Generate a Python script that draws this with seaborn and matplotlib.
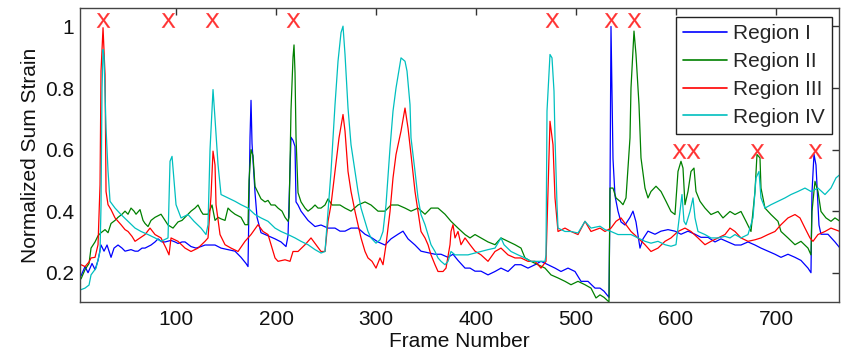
import matplotlib
matplotlib.use("Agg")
import matplotlib.pyplot as plt
import seaborn as sns
import pandas as pd

# ---------------- data ----------------
frames_r1 = [5, 9, 12, 16, 19, 22, 25, 28, 31, 35, 38, 42, 46, 49, 55, 59, 62, 66, 69, 75, 79, 82, 86, 89,
             95, 99, 102, 106, 109, 115, 120, 125, 129, 134, 139, 145, 152, 159, 165, 170, 172, 174, 175, 176,
             179, 181, 185, 192, 199, 205, 210, 212, 215, 217, 219, 220, 222, 225, 232, 239, 245, 252, 259,
             264, 269, 275, 282, 289, 295, 302, 309, 315, 322, 327, 332, 339, 345, 352, 359, 365, 372, 377,
             382, 389, 394, 399, 405, 412, 419, 425, 432, 439, 445, 452, 459, 465, 472, 479, 485, 492, 499,
             505, 512, 519, 524, 528, 533, 534, 535, 537, 539, 542, 545, 549, 554, 557, 560, 564, 567, 572,
             579, 585, 592, 599, 605, 612, 619, 625, 632, 639, 645, 652, 659, 665, 672, 679, 685, 692, 699,
             705, 712, 719, 725, 732, 735, 736, 738, 740, 743, 745, 752, 759, 764]
region_1 = [0.19, 0.22, 0.20, 0.23, 0.21, 0.24, 0.29, 0.27, 0.29, 0.25, 0.28, 0.29, 0.28, 0.27, 0.275, 0.27,
            0.27, 0.28, 0.28, 0.29, 0.30, 0.31, 0.30, 0.30, 0.305, 0.30, 0.295, 0.30, 0.30, 0.285, 0.28, 0.285,
            0.29, 0.29, 0.29, 0.28, 0.275, 0.27, 0.25, 0.23, 0.22, 0.64, 0.76, 0.62, 0.46, 0.38, 0.33, 0.32,
            0.31, 0.30, 0.285, 0.32, 0.64, 0.63, 0.61, 0.43, 0.42, 0.40, 0.37, 0.35, 0.355, 0.345, 0.345,
            0.335, 0.335, 0.345, 0.345, 0.325, 0.315, 0.30, 0.29, 0.31, 0.325, 0.335, 0.31, 0.29, 0.27, 0.265,
            0.26, 0.26, 0.25, 0.26, 0.24, 0.215, 0.215, 0.205, 0.205, 0.193, 0.204, 0.215, 0.204, 0.226, 0.226,
            0.215, 0.226, 0.237, 0.226, 0.215, 0.204, 0.215, 0.204, 0.172, 0.172, 0.15, 0.15, 0.14, 0.12, 0.46,
            1.0, 0.57, 0.45, 0.40, 0.365, 0.355, 0.38, 0.40, 0.365, 0.28, 0.31, 0.335, 0.325, 0.335, 0.34,
            0.335, 0.325, 0.335, 0.325, 0.315, 0.315, 0.30, 0.31, 0.30, 0.29, 0.29, 0.30, 0.29, 0.28, 0.27,
            0.26, 0.25, 0.26, 0.25, 0.24, 0.215, 0.20, 0.46, 0.585, 0.55, 0.355, 0.325, 0.325, 0.30, 0.28]

frames_r2 = [5, 9, 13, 15, 19, 22, 25, 29, 32, 35, 39, 42, 46, 49, 52, 55, 58, 60, 64, 67, 69, 72, 75, 79,
             82, 85, 89, 92, 97, 102, 106, 109, 112, 115, 119, 122, 125, 127, 132, 136, 139, 142, 145, 149,
             152, 155, 159, 162, 165, 169, 172, 173, 175, 177, 179, 182, 185, 189, 192, 195, 199, 202, 206,
             209, 212, 213, 215, 217, 218, 219, 220, 222, 225, 229, 232, 236, 239, 242, 245, 249, 252, 256,
             259, 264, 269, 275, 282, 289, 295, 302, 309, 315, 322, 329, 335, 342, 349, 355, 362, 369, 375,
             382, 389, 394, 399, 405, 412, 419, 425, 432, 439, 445, 449, 455, 462, 469, 475, 482, 489, 495,
             502, 509, 515, 520, 524, 528, 533, 534, 537, 540, 544, 547, 550, 554, 555, 558, 560, 563, 565,
             569, 572, 575, 580, 585, 590, 595, 599, 602, 605, 607, 609, 612, 615, 618, 620, 624, 629, 635,
             642, 647, 654, 659, 665, 670, 675, 679, 681, 684, 685, 689, 695, 702, 705, 712, 719, 725, 732,
             735, 736, 739, 742, 745, 750, 755, 759, 764]
region_2 = [0.18, 0.21, 0.23, 0.28, 0.30, 0.32, 0.33, 0.34, 0.33, 0.36, 0.37, 0.38, 0.39, 0.40, 0.39, 0.41,
            0.40, 0.39, 0.405, 0.37, 0.36, 0.35, 0.37, 0.38, 0.385, 0.39, 0.37, 0.355, 0.345, 0.365, 0.37, 0.38,
            0.39, 0.40, 0.41, 0.42, 0.40, 0.39, 0.39, 0.42, 0.37, 0.38, 0.375, 0.37, 0.41, 0.40, 0.39, 0.385,
            0.38, 0.356, 0.356, 0.50, 0.60, 0.58, 0.48, 0.46, 0.44, 0.43, 0.435, 0.42, 0.42, 0.41, 0.40, 0.38,
            0.367, 0.38, 0.73, 0.90, 0.94, 0.85, 0.64, 0.46, 0.43, 0.41, 0.40, 0.41, 0.42, 0.41, 0.41, 0.42,
            0.44, 0.42, 0.42, 0.42, 0.41, 0.40, 0.42, 0.43, 0.42, 0.40, 0.40, 0.42, 0.42, 0.41, 0.40, 0.41,
            0.39, 0.41, 0.41, 0.39, 0.367, 0.345, 0.324, 0.313, 0.324, 0.313, 0.30, 0.291, 0.313, 0.302, 0.291,
            0.28, 0.248, 0.237, 0.226, 0.215, 0.193, 0.183, 0.172, 0.161, 0.172, 0.161, 0.15, 0.118, 0.128,
            0.12, 0.105, 0.475, 0.475, 0.443, 0.432, 0.421, 0.443, 0.638, 0.80, 0.985, 0.909, 0.746, 0.573,
            0.475, 0.443, 0.464, 0.481, 0.464, 0.432, 0.399, 0.389, 0.529, 0.562, 0.540, 0.421, 0.464, 0.529,
            0.540, 0.464, 0.432, 0.410, 0.389, 0.399, 0.378, 0.399, 0.389, 0.399, 0.367, 0.334, 0.464, 0.584,
            0.573, 0.475, 0.410, 0.389, 0.367, 0.334, 0.313, 0.291, 0.302, 0.280, 0.258, 0.399, 0.497, 0.464,
            0.399, 0.378, 0.367, 0.378, 0.367]

frames_r3 = [5, 9, 13, 15, 19, 22, 24, 25, 27, 29, 30, 32, 35, 39, 45, 49, 52, 56, 59, 64, 69, 74, 79, 85,
             90, 93, 95, 102, 109, 115, 122, 129, 132, 135, 137, 139, 140, 144, 149, 155, 162, 169, 175, 182,
             187, 192, 195, 199, 202, 209, 214, 217, 222, 229, 235, 240, 245, 249, 252, 255, 259, 263, 267,
             269, 272, 275, 279, 282, 285, 289, 292, 296, 300, 304, 307, 310, 314, 317, 320, 325, 329, 332,
             335, 339, 342, 345, 349, 352, 355, 359, 362, 367, 370, 374, 375, 377, 379, 382, 385, 389, 394,
             399, 405, 412, 419, 425, 432, 439, 445, 452, 459, 465, 470, 472, 474, 477, 479, 482, 489, 495,
             502, 509, 515, 524, 529, 535, 540, 545, 550, 555, 562, 569, 575, 582, 589, 595, 602, 609, 615,
             622, 629, 635, 642, 649, 654, 659, 665, 672, 679, 685, 692, 699, 705, 712, 719, 724, 729, 734,
             737, 742, 749, 755, 764]
region_3 = [0.226, 0.22, 0.235, 0.248, 0.25, 0.291, 0.486, 0.855, 0.996, 0.844, 0.464, 0.421, 0.405, 0.378,
            0.356, 0.34, 0.334, 0.318, 0.302, 0.313, 0.324, 0.345, 0.324, 0.313, 0.280, 0.258, 0.313, 0.302,
            0.280, 0.269, 0.280, 0.302, 0.313, 0.45, 0.595, 0.55, 0.421, 0.324, 0.291, 0.280, 0.269, 0.302,
            0.324, 0.356, 0.334, 0.324, 0.291, 0.248, 0.237, 0.242, 0.237, 0.269, 0.269, 0.291, 0.313, 0.291,
            0.269, 0.269, 0.367, 0.421, 0.529, 0.638, 0.714, 0.66, 0.529, 0.464, 0.399, 0.356, 0.313, 0.269,
            0.248, 0.237, 0.215, 0.248, 0.226, 0.291, 0.399, 0.508, 0.584, 0.660, 0.735, 0.670, 0.584, 0.464,
            0.399, 0.334, 0.313, 0.291, 0.258, 0.226, 0.204, 0.204, 0.215, 0.291, 0.334, 0.356, 0.313, 0.334,
            0.291, 0.313, 0.291, 0.270, 0.258, 0.237, 0.269, 0.280, 0.258, 0.248, 0.248, 0.237, 0.237, 0.215,
            0.237, 0.464, 0.692, 0.616, 0.443, 0.334, 0.345, 0.334, 0.324, 0.367, 0.334, 0.345, 0.334, 0.345,
            0.367, 0.378, 0.356, 0.334, 0.313, 0.291, 0.269, 0.280, 0.302, 0.313, 0.334, 0.345, 0.334, 0.313,
            0.291, 0.302, 0.313, 0.324, 0.345, 0.334, 0.313, 0.302, 0.307, 0.313, 0.324, 0.334, 0.356, 0.378,
            0.389, 0.378, 0.345, 0.313, 0.302, 0.324, 0.334, 0.345, 0.334]

frames_r4 = [5, 9, 13, 15, 20, 24, 25, 26, 27, 28, 30, 32, 34, 39, 45, 52, 59, 65, 72, 79, 85, 92, 94, 96,
             98, 100, 105, 112, 118, 125, 130, 132, 134, 137, 139, 142, 145, 152, 159, 165, 172, 179, 185,
             192, 199, 205, 212, 219, 225, 232, 239, 245, 249, 252, 255, 259, 262, 265, 267, 269, 272, 275,
             279, 282, 285, 289, 292, 295, 300, 304, 307, 310, 314, 317, 320, 325, 329, 331, 334, 335, 339,
             342, 345, 349, 352, 355, 359, 362, 365, 369, 372, 375, 379, 385, 392, 399, 405, 412, 419, 425,
             428, 435, 442, 449, 455, 462, 469, 470, 471, 474, 476, 478, 479, 481, 482, 489, 495, 502, 509,
             515, 524, 529, 535, 542, 549, 555, 562, 569, 575, 582, 589, 595, 600, 604, 606, 608, 610, 614,
             617, 619, 622, 629, 635, 642, 649, 654, 659, 665, 672, 677, 680, 683, 685, 689, 695, 702, 709,
             715, 722, 729, 735, 742, 749, 755, 760, 764]
region_4 = [0.145, 0.15, 0.16, 0.193, 0.215, 0.269, 0.421, 0.80, 0.925, 0.90, 0.67, 0.53, 0.432, 0.410,
            0.389, 0.367, 0.345, 0.334, 0.324, 0.313, 0.302, 0.313, 0.562, 0.578, 0.50, 0.421, 0.378, 0.389,
            0.367, 0.345, 0.324, 0.356, 0.60, 0.795, 0.70, 0.551, 0.454, 0.443, 0.432, 0.421, 0.410, 0.389,
            0.378, 0.367, 0.345, 0.334, 0.324, 0.313, 0.302, 0.291, 0.275, 0.264, 0.269, 0.399, 0.529, 0.746,
            0.887, 0.98, 1.001, 0.909, 0.735, 0.616, 0.529, 0.464, 0.410, 0.367, 0.334, 0.313, 0.296, 0.307,
            0.334, 0.421, 0.605, 0.725, 0.80, 0.898, 0.887, 0.855, 0.746, 0.638, 0.529, 0.443, 0.389, 0.356,
            0.324, 0.291, 0.269, 0.248, 0.237, 0.226, 0.237, 0.269, 0.258, 0.258, 0.258, 0.264, 0.269, 0.275,
            0.280, 0.313, 0.291, 0.269, 0.258, 0.248, 0.237, 0.237, 0.237, 0.258, 0.725, 0.909, 0.898, 0.790,
            0.638, 0.421, 0.345, 0.334, 0.334, 0.329, 0.367, 0.345, 0.351, 0.34, 0.334, 0.324, 0.324, 0.324,
            0.313, 0.302, 0.296, 0.302, 0.291, 0.286, 0.291, 0.399, 0.454, 0.367, 0.356, 0.399, 0.443, 0.378,
            0.334, 0.324, 0.313, 0.313, 0.318, 0.313, 0.324, 0.313, 0.324, 0.378, 0.508, 0.529, 0.443, 0.410,
            0.421, 0.432, 0.443, 0.454, 0.464, 0.475, 0.464, 0.475, 0.454, 0.475, 0.508, 0.519]

region_names = ["Region I", "Region II", "Region III", "Region IV"]
region_colors = ["#0000ff", "#008000", "#ff0000", "#00bfbf"]

marker_frames = [27, 92, 136, 217, 476, 535, 558, 603, 617, 681, 739]
marker_values = [1.022, 1.022, 1.022, 1.022, 1.022, 1.022, 1.022, 0.594, 0.594, 0.594, 0.594]

x_ticks = [100, 200, 300, 400, 500, 600, 700]
y_ticks = [0.2, 0.4, 0.6, 0.8, 1.0]
y_tick_labels = ["0.2", "0.4", "0.6", "0.8", "1"]

# ---------------- build long table ----------------
parts = []
for name, fr, vals in zip(region_names,
                          [frames_r1, frames_r2, frames_r3, frames_r4],
                          [region_1, region_2, region_3, region_4]):
    parts.append(pd.DataFrame({"frame": fr, "value": vals, "region": name}))
df = pd.concat(parts, ignore_index=True)
marks = pd.DataFrame({"frame": marker_frames, "value": marker_values})

# ---------------- plot ----------------
sns.set_theme(style="white")
plt.rcParams["font.family"] = ["Liberation Sans", "DejaVu Sans"]
plt.rcParams["mathtext.fontset"] = "custom"
plt.rcParams["mathtext.sf"] = "Liberation Sans"

fig = plt.figure(figsize=(8.46, 3.54), dpi=100)
ax = fig.add_axes([0.0946, 0.147, 0.8971, 0.8304])

sns.lineplot(data=df, x="frame", y="value", hue="region", hue_order=region_names,
             palette=region_colors, estimator=None, sort=False, linewidth=0.9, ax=ax)
sns.scatterplot(data=marks, x="frame", y="value", marker=r"$\mathsf{X}$", color="#ff3030",
                edgecolor="#ff3030", s=110, linewidth=0.2, ax=ax, legend=False, zorder=5)

ax.set_xlim(4, 763)
ax.set_ylim(0.105, 1.06)
ax.set_xticks(x_ticks)
ax.set_xticklabels([str(t) for t in x_ticks])
ax.set_yticks(y_ticks)
ax.set_yticklabels(y_tick_labels)
ax.tick_params(direction="in", length=5, width=1, colors="#333333", labelsize=15,
               top=True, right=True, labelcolor="#111111")
ax.tick_params(axis="x", pad=6)
ax.tick_params(axis="y", pad=4)
for sp in ax.spines.values():
    sp.set_visible(True)
    sp.set_color("#444444")
    sp.set_linewidth(1.0)
ax.set_xlabel("Frame Number", fontsize=15, color="#111111", labelpad=2)
ax.set_ylabel("Normalized Sum Strain", fontsize=15, color="#111111", labelpad=4)

leg = ax.legend(loc="upper right", bbox_to_anchor=(0.991, 0.969), fontsize=15,
                frameon=True, fancybox=False, edgecolor="#222222", framealpha=1,
                handlelength=2.1, handletextpad=0.3, labelspacing=0.42, borderpad=0.35,
                borderaxespad=0.0)
leg.get_frame().set_linewidth(1.0)
for line in leg.get_lines():
    line.set_linewidth(1.2)

fig.savefig("out.png", dpi=100)
